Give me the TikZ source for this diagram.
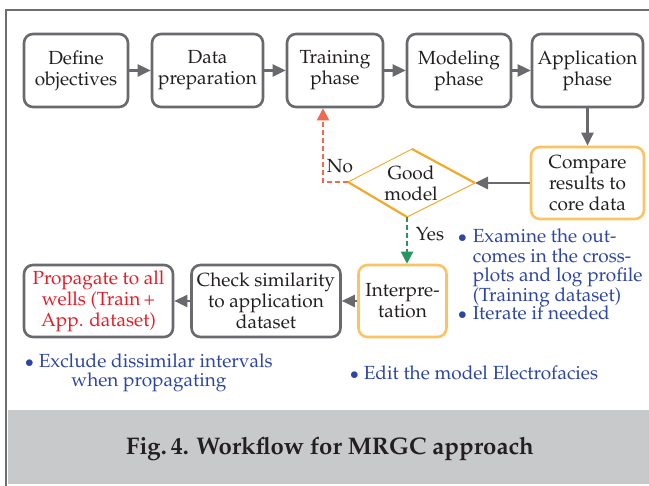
\documentclass[tikz,border=0pt]{standalone}
\usepackage[T1]{fontenc}
\renewcommand{\rmdefault}{ppl}
\usetikzlibrary{arrows.meta}
\definecolor{boxgray}{RGB}{105,105,110}
\definecolor{lightor}{RGB}{252,195,100}
\definecolor{diaor}{RGB}{242,170,45}
\definecolor{noor}{RGB}{240,105,80}
\definecolor{yesgr}{RGB}{40,150,95}
\definecolor{txtblue}{RGB}{45,70,165}
\definecolor{txtred}{RGB}{228,30,40}
\definecolor{band}{RGB}{200,201,203}
\definecolor{framegray}{RGB}{110,110,112}
\definecolor{txtdark}{RGB}{35,31,32}
\begin{document}
\begin{tikzpicture}[x=1pt,y=-1pt,
  box/.style={draw=boxgray,line width=2.6pt,rounded corners=9pt,align=center,inner sep=0pt,
    minimum height=73pt,font=\fontsize{19}{21}\selectfont,text=txtdark},
  obox/.style={box,draw=lightor},
  arr/.style={draw=boxgray,line width=2.6pt,-{Triangle[length=13pt,width=12pt]}},
  dasharr/.style={line width=2pt,dash pattern=on 5pt off 3pt,-{Triangle[length=12pt,width=12pt]}},
  note/.style={text=txtblue,inner sep=0pt,font=\fontsize{19}{19}\selectfont},
  lbl/.style={text=txtdark,inner sep=0pt,font=\fontsize{19}{19}\selectfont},
]
\useasboundingbox (0,0) rectangle (649,486);
% frame and caption band
\fill[band] (7.5,410) rectangle (649,484);
\draw[framegray,line width=2.5pt] (6,486) -- (6,10) -- (649,10);
\node[font=\bfseries\fontsize{24}{28}\selectfont,text=txtdark] (cap) at (330,449) {Fig.\,4. Workflow for MRGC approach};

% top row
\node[box,minimum width=104pt] (defobj) at (76,70.5) {Define\\objectives};
\node[box,minimum width=111pt] (dataprep) at (207.5,70.5) {Data\\preparation};
\node[box,minimum width=96pt] (train) at (335,70.5) {Training\\phase};
\node[box,minimum width=104pt] (model) at (459,70.5) {Modeling\\phase};
\node[box,minimum width=111pt] (app) at (587.5,70.5) {Application\\phase};

% compare
\node[obox,minimum width=113pt,minimum height=72pt] (compare) at (587.5,183) {Compare\\results to\\core data};

% diamond
\coordinate (dL) at (348,182);
\coordinate (dT) at (412,149);
\coordinate (dR) at (475,183);
\coordinate (dB) at (407,217);
\draw[diaor,line width=0.9pt] (dL) -- (dT);
\draw[diaor,line width=2.2pt] (dT) -- (dR);
\draw[diaor,line width=0.9pt] (dR) -- (dB);
\draw[diaor,line width=2.2pt] (dB) -- (dL);
\node[lbl,align=center,font=\fontsize{19}{21}\selectfont] (good) at (411,183) {Good\\model};

% bottom row
\node[box,minimum width=149pt,minimum height=72pt,text=txtred] (prop) at (98.5,301) {Propagate to all\\wells (Train\,+\\App. dataset)};
\node[box,minimum width=149pt,minimum height=72pt] (check) at (266,301) {Check similarity\\to application\\dataset};
\node[obox,minimum width=88pt,minimum height=72pt] (interp) at (402.5,301) {Interpre-\\tation};

% arrows
\draw[arr] (defobj) -- (dataprep);
\draw[arr] (dataprep) -- (train);
\draw[arr] (train) -- (model);
\draw[arr] (model) -- (app);
\draw[arr] (app.south) -- (compare.north);
\draw[arr] (compare.west) -- (dR);
\draw[arr] (interp) -- (check);
\draw[arr] (check) -- (prop);

\coordinate (nocorner) at (323,182);
\draw[dasharr,noor] (dL) -- (nocorner) -- (nocorner |- train.south);
\node[lbl] (no) at (340,166) {No};
\draw[dasharr,yesgr] (dB) -- (dB |- interp.north);
\node[lbl] (yes) at (430,234) {Yes};

% notes
\node[note,anchor=north west,align=left] (n1) at (458,229)
  {\begin{tabular}{@{}l@{\hspace{6pt}}l@{}}
   $\bullet$ & Examine the out-\\
   & comes in the cross-\\
   & plots and log profile\\
   & (Training dataset)\\[-1pt]
   $\bullet$ & Iterate if needed
   \end{tabular}};
\node[note,align=center] (n2) at (149,372.5)
  {$\bullet$\hspace{5pt}Exclude dissimilar intervals\\when propagating};
\node[note,anchor=west] (n3) at (350,373) {$\bullet$\hspace{5pt}Edit the model Electrofacies};
\end{tikzpicture}
\end{document}
